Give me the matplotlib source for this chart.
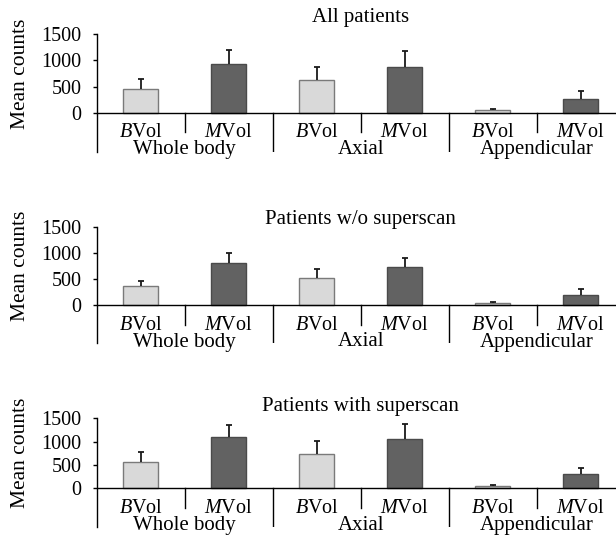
import matplotlib
matplotlib.use('Agg')
import matplotlib.pyplot as plt
import numpy as np

plt.rcParams['font.family'] = ['Liberation Serif', 'DejaVu Serif']
plt.rcParams['mathtext.fontset'] = 'custom'
plt.rcParams['mathtext.rm'] = 'Liberation Serif'
plt.rcParams['mathtext.it'] = 'Liberation Serif:italic'

# ---------------- data ----------------
regions = ['Whole body', 'Axial', 'Appendicular']
measures = ['B', 'M']          # BVol / MVol (italic prefix)
titles = ['All patients', 'Patients w/o superscan', 'Patients with superscan']
yticks = [0, 500, 1000, 1500]

all_mean = [460, 940, 625, 880, 55, 260]
all_sd = [190, 265, 255, 310, 25, 150]

wo_mean = [360, 800, 510, 720, 40, 190]
wo_sd = [100, 200, 180, 180, 20, 110]

with_mean = [565, 1090, 730, 1050, 50, 300]
with_sd = [215, 270, 290, 330, 20, 145]

panel_means = [all_mean, wo_mean, with_mean]
panel_sds = [all_sd, wo_sd, with_sd]

# ---------------- layout (pixels) ----------------
W, H = 616, 541
left_px = 96.7
cat_px = 88.0
panels_px = [(34.3, 112.7, 151.7), (226.7, 305.0, 343.3), (418.3, 488.3, 526.7)]
title_base_px = [21.7, 224.3, 411.0]

light_fill, light_edge = '#d9d9d9', '#7a7a7a'
dark_fill, dark_edge = '#626262', '#4a4a4a'

fig = plt.figure(figsize=(W / 100, H / 100), dpi=100)

xmax = -0.5 + (W - left_px) / cat_px
x = np.arange(6)
labels = [rf'$\mathit{{{m}}}$Vol' for r in regions for m in measures]
fills = [light_fill, dark_fill] * 3
edges = [light_edge, dark_edge] * 3

for p, (top, zero, bot) in enumerate(panels_px):
    ax = fig.add_axes([left_px / W, 1 - bot / H, 1 - left_px / W, (bot - top) / H])
    ppu = (zero - top) / 1500.0
    ymin = -(bot - zero) / ppu
    ax.set_xlim(-0.5, xmax)
    ax.set_ylim(ymin, 1500)
    ax.patch.set_alpha(0)

    ax.bar(x, panel_means[p], width=0.4, color=fills, edgecolor=edges,
           linewidth=1.0, zorder=2)
    eb = ax.errorbar(x, panel_means[p], yerr=[np.zeros(6), panel_sds[p]], fmt='none',
                     ecolor='#1a1a1a', elinewidth=1.3, capsize=2.3, capthick=1.3, zorder=3)
    caplines = eb[1]
    if len(caplines) >= 2:
        caplines[0].set_visible(False)   # no cap at the lower (zero-length) end
    ax.axhline(0, color='black', lw=1.0, zorder=4)

    for s in ['top', 'right', 'bottom']:
        ax.spines[s].set_visible(False)
    ax.spines['left'].set_bounds(ymin, 1500)
    ax.spines['left'].set_linewidth(1.0)
    ax.set_xticks([])
    ax.set_yticks(yticks)
    ax.set_yticklabels([str(t) for t in yticks])
    ax.tick_params(axis='y', direction='out', length=3, width=1.0, pad=8, labelsize=14.5)

    # dividers
    for xd in [0.5, 2.5, 4.5]:
        ax.plot([xd, xd], [0, -19.5 / ppu], color='black', lw=1.0, zorder=4)
    for xd in [1.5, 3.5]:
        ax.plot([xd, xd], [0, ymin], color='black', lw=1.0, zorder=4)

    for i, lab in enumerate(labels):
        ax.annotate(lab, xy=(i, 0), xytext=(0, -24.5), textcoords='offset pixels',
                    ha='center', va='baseline', fontsize=14.5)
    for g, reg in enumerate(regions):
        ax.annotate(reg, xy=(2 * g + 0.5, 0), xytext=(0, -41.5), textcoords='offset pixels',
                    ha='center', va='baseline', fontsize=15)

    # y label
    yc = (750 - ymin) / (1500 - ymin)
    ax.text((20 - left_px) / (W - left_px), yc, 'Mean counts', transform=ax.transAxes,
            rotation=90, ha='center', va='center', fontsize=15.5)

    fig.text((left_px + 3 * cat_px) / W, 1 - title_base_px[p] / H, titles[p],
             ha='center', va='baseline', fontsize=15)

fig.savefig('out.png', dpi=100)
